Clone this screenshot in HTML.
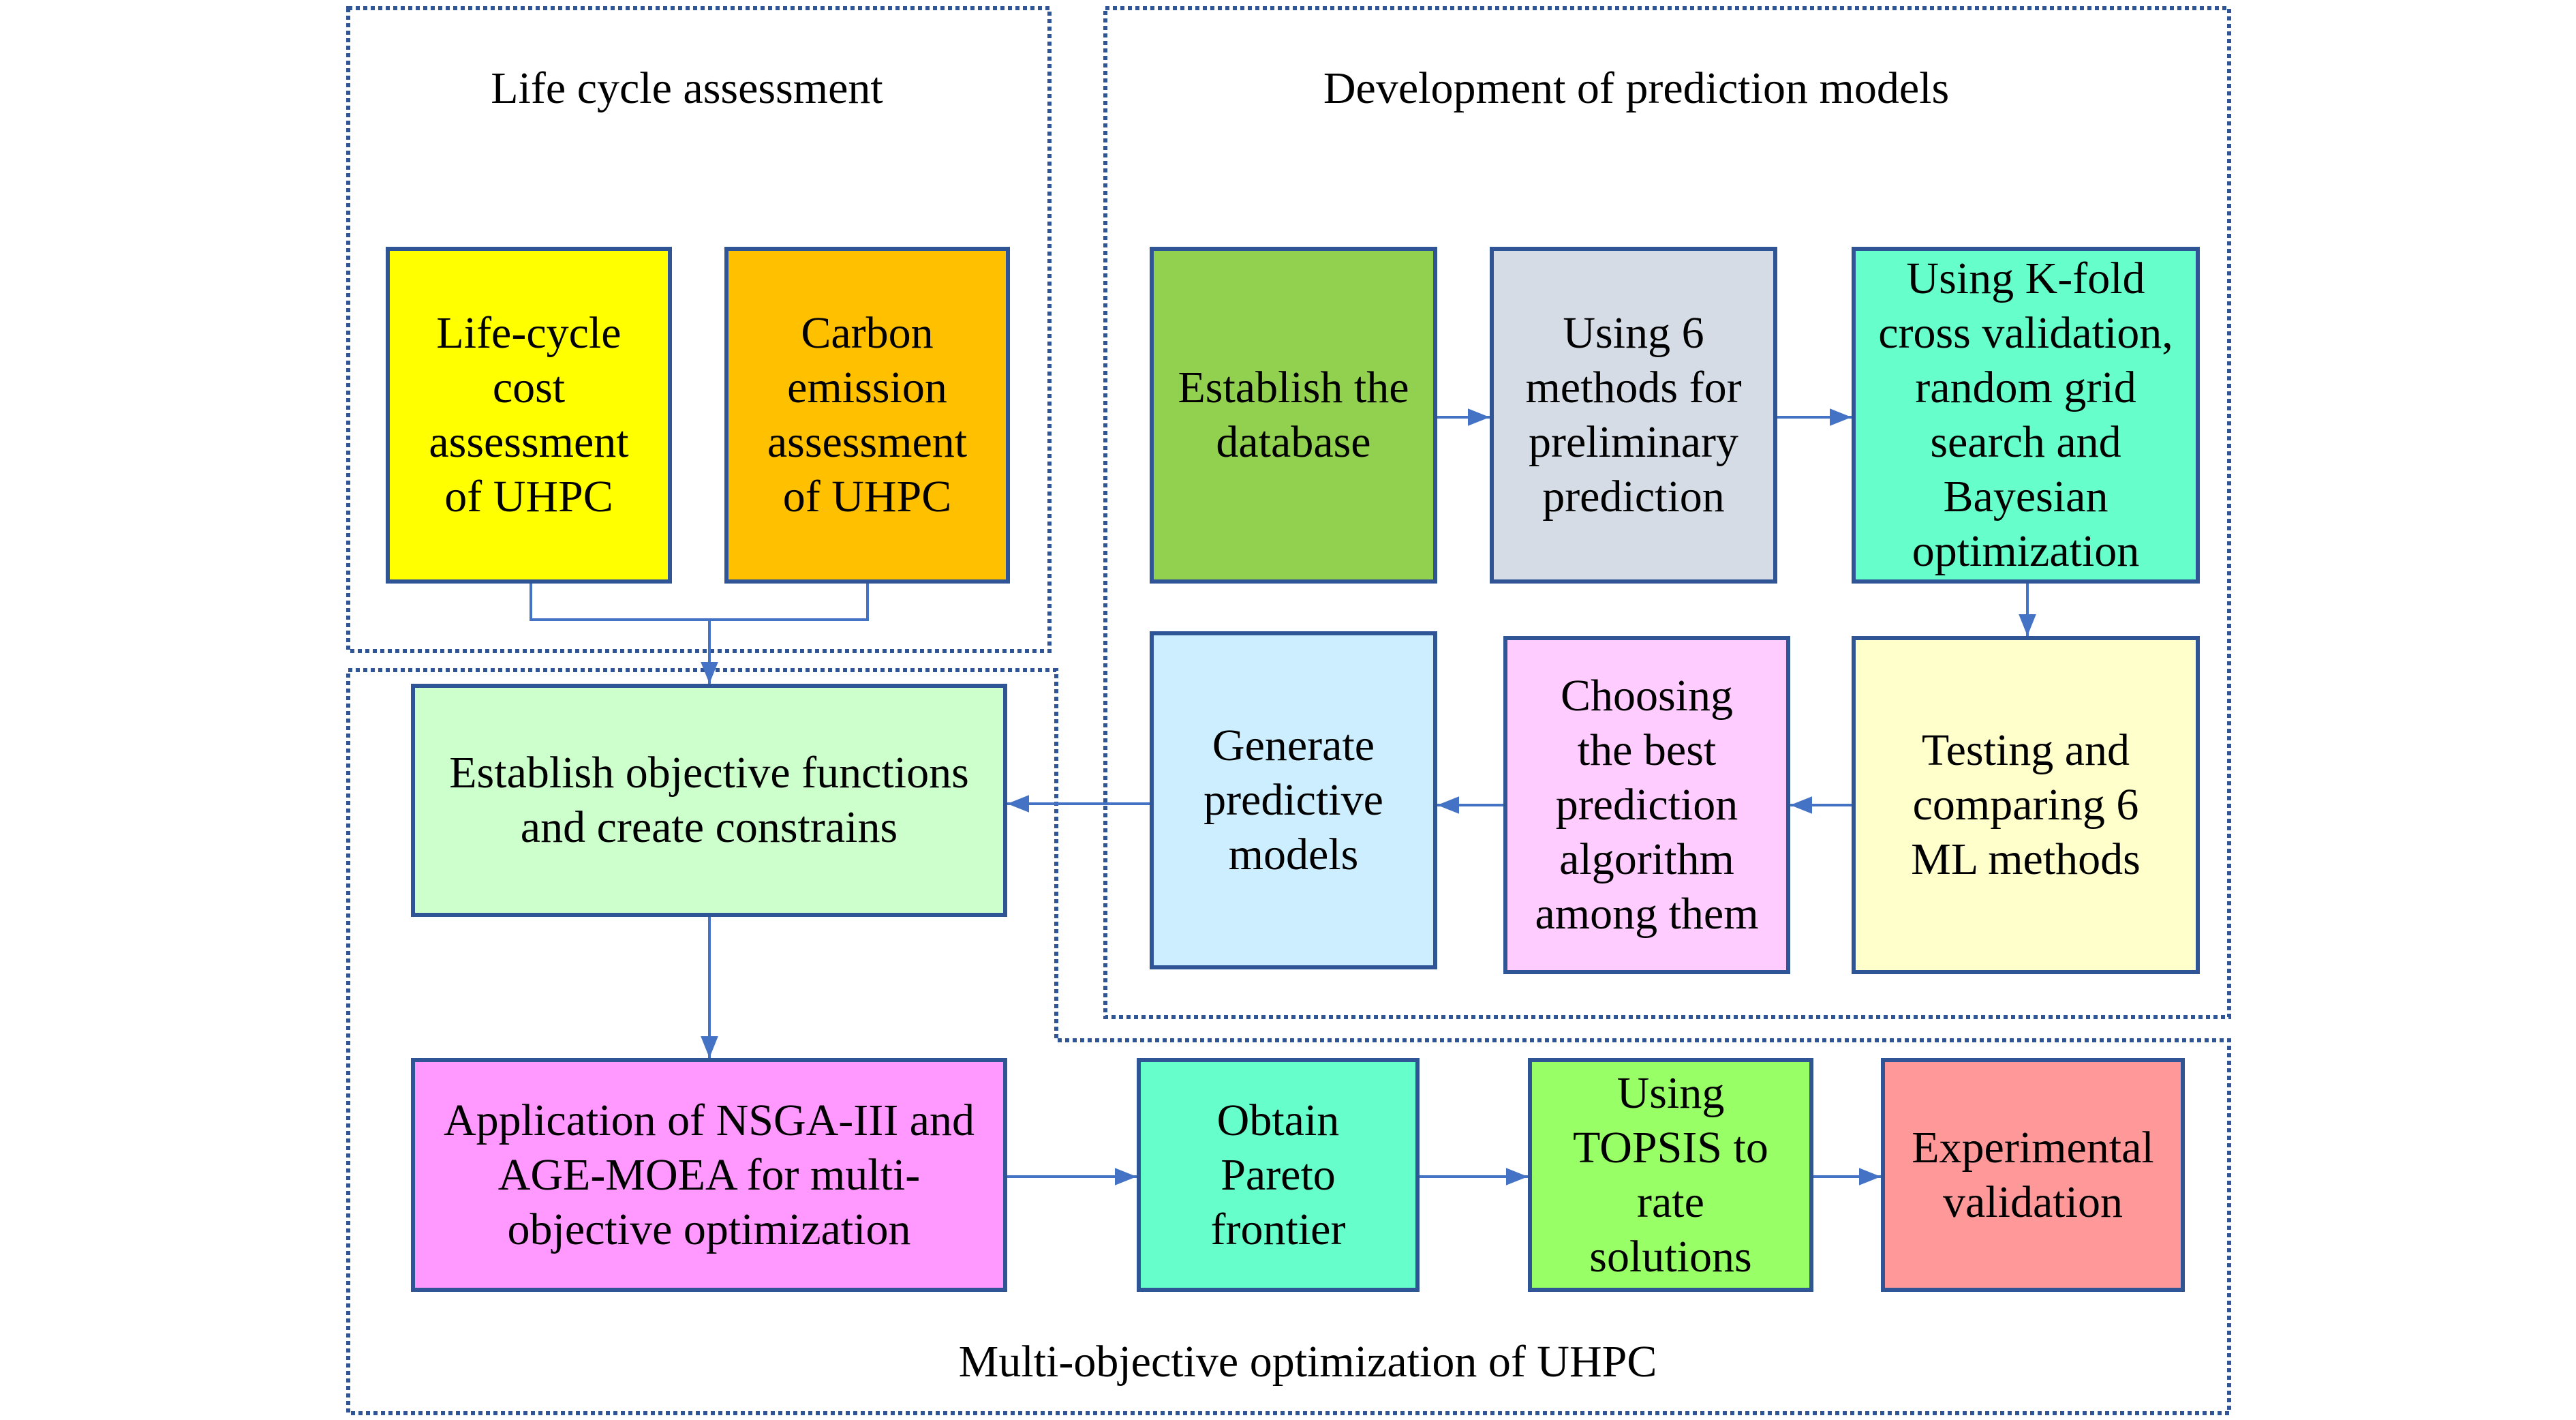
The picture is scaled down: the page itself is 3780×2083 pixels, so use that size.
<!DOCTYPE html>
<html><head><meta charset="utf-8"><style>
html,body{margin:0;padding:0;background:#fff;}
#c{position:relative;width:3780px;height:2083px;overflow:hidden;font-family:"Liberation Serif",serif;color:#000;}
.b{position:absolute;box-sizing:border-box;border:6px solid #2f5597;display:flex;align-items:center;justify-content:center;text-align:center;font-size:66px;line-height:80px;}
.t{position:absolute;font-size:66px;line-height:70px;white-space:nowrap;transform:translate(-50%,-50%);}
svg{position:absolute;left:0;top:0;}
</style></head><body><div id="c">
<svg width="3780" height="2083">
<defs>
<marker id="m" viewBox="0 0 10 10" refX="10" refY="5" markerWidth="32" markerHeight="32" markerUnits="userSpaceOnUse" orient="auto"><path d="M0,1 L10,5 L0,9 z" fill="#4472c4"/></marker></defs>
<g fill="none" stroke="#2f5597" stroke-width="6" stroke-dasharray="6 5">
<rect x="511" y="12" width="1029" height="943"/>
<rect x="1622" y="12" width="1649" height="1480"/>
<path d="M511,983 L1550,983 L1550,1526 L3271,1526 L3271,2073 L511,2073 Z"/>
</g>
<g fill="none" stroke="#4472c4" stroke-width="4">
<path d="M779,856 V909 H1273 V856"/>
<path d="M1041,909 V1003" marker-end="url(#m)"/>
<path d="M2109,612 H2186" marker-end="url(#m)"/>
<path d="M2608,612 H2717" marker-end="url(#m)"/>
<path d="M2975,856 V933" marker-end="url(#m)"/>
<path d="M2717,1181 H2627" marker-end="url(#m)"/>
<path d="M2206,1181 H2109" marker-end="url(#m)"/>
<path d="M1687,1179 H1478" marker-end="url(#m)"/>
<path d="M1041,1345 V1552" marker-end="url(#m)"/>
<path d="M1478,1726 H1668" marker-end="url(#m)"/>
<path d="M2083,1726 H2242" marker-end="url(#m)"/>
<path d="M2661,1726 H2760" marker-end="url(#m)"/>
</g>
</svg>
<div class="t" style="left:1008px;top:130px">Life cycle assessment</div>
<div class="t" style="left:2401px;top:130px">Development of prediction models</div>
<div class="t" style="left:1919px;top:1998px">Multi-objective optimization of UHPC</div>

<div class="b" style="left:566px;top:362px;width:420px;height:494px;background:#ffff00">Life-cycle<br>cost<br>assessment<br>of UHPC</div>
<div class="b" style="left:1063px;top:362px;width:419px;height:494px;background:#ffc000">Carbon<br>emission<br>assessment<br>of UHPC</div>
<div class="b" style="left:1687px;top:362px;width:422px;height:494px;background:#92d050">Establish the<br>database</div>
<div class="b" style="left:2186px;top:362px;width:422px;height:494px;background:#d6dce5">Using 6<br>methods for<br>preliminary<br>prediction</div>
<div class="b" style="left:2717px;top:362px;width:511px;height:494px;background:#66ffcc">Using K-fold<br>cross validation,<br>random grid<br>search and<br>Bayesian<br>optimization</div>
<div class="b" style="left:1687px;top:926px;width:422px;height:496px;background:#cceeff">Generate<br>predictive<br>models</div>
<div class="b" style="left:2206px;top:933px;width:421px;height:496px;background:#ffccff">Choosing<br>the best<br>prediction<br>algorithm<br>among them</div>
<div class="b" style="left:2717px;top:933px;width:511px;height:496px;background:#ffffcc">Testing and<br>comparing 6<br>ML methods</div>
<div class="b" style="left:603px;top:1003px;width:875px;height:342px;background:#ccffcc">Establish objective functions<br>and create constrains</div>
<div class="b" style="left:603px;top:1552px;width:875px;height:343px;background:#ff99ff">Application of NSGA-III and<br>AGE-MOEA for multi-<br>objective optimization</div>
<div class="b" style="left:1668px;top:1552px;width:415px;height:343px;background:#66ffcc">Obtain<br>Pareto<br>frontier</div>
<div class="b" style="left:2242px;top:1552px;width:419px;height:343px;background:#99ff66">Using<br>TOPSIS to<br>rate<br>solutions</div>
<div class="b" style="left:2760px;top:1552px;width:446px;height:343px;background:#ff9999">Experimental<br>validation</div>
</div></body></html>
